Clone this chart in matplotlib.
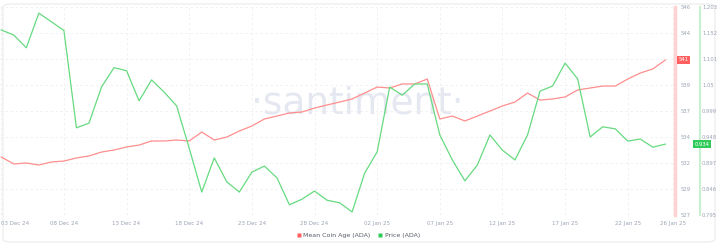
import matplotlib
matplotlib.use("Agg")
import matplotlib.pyplot as plt
from matplotlib.patches import FancyBboxPatch
from matplotlib.lines import Line2D
import matplotlib.transforms as mtransforms
import numpy as np

# ---- data (daily, 03 Dec 2024 .. 25 Jan 2025) ----
mean_coin_age = [532.30, 531.66, 531.75, 531.57, 531.84, 531.93, 532.21, 532.39, 532.75, 532.94,
                 533.21, 533.39, 533.76, 533.76, 533.85, 533.76, 534.58, 533.85, 534.12, 534.67,
                 535.13, 535.77, 536.04, 536.32, 536.41, 536.77, 537.05, 537.32, 537.60, 538.14,
                 538.69, 538.60, 538.97, 538.97, 539.42, 535.77, 536.04, 535.59, 536.04, 536.50,
                 536.96, 537.32, 538.14, 537.50, 537.60, 537.78, 538.42, 538.60, 538.78, 538.78,
                 539.42, 539.97, 540.34, 541.16]
price = [1.158, 1.148, 1.123, 1.191, 1.174, 1.157, 0.966, 0.975, 1.046, 1.084,
         1.078, 1.019, 1.060, 1.036, 1.009, 0.926, 0.840, 0.907, 0.860, 0.840,
         0.879, 0.891, 0.868, 0.815, 0.826, 0.842, 0.824, 0.819, 0.801, 0.877,
         0.919, 1.046, 1.030, 1.052, 1.052, 0.952, 0.903, 0.862, 0.893, 0.952,
         0.922, 0.903, 0.952, 1.038, 1.048, 1.093, 1.062, 0.948, 0.968, 0.964,
         0.940, 0.944, 0.928, 0.934]
x_tick_days = [0, 5, 10, 15, 20, 25, 30, 35, 40, 45, 50, 53.6]
x_tick_labels = ["03 Dec 24", "08 Dec 24", "13 Dec 24", "18 Dec 24", "23 Dec 24", "28 Dec 24",
                 "02 Jan 25", "07 Jan 25", "12 Jan 25", "17 Jan 25", "22 Jan 25", "26 Jan 25"]
age_ticks = [527, 529.375, 531.75, 534.125, 536.5, 538.875, 541.25, 543.625, 546]
age_tick_labels = ["527", "529", "532", "534", "537", "539", "", "544", "546"]
price_ticks = [0.795, 0.846, 0.897, 0.948, 0.999, 1.05, 1.101, 1.152, 1.203]
price_tick_labels = ["0.795", "0.846", "0.897", "0.948", "0.999", "1.05", "1.101", "1.152", "1.203"]
age_last_label = "541"
price_last_label = "0.934"

RED = "#ff8e8e"
GREEN = "#66da80"
TICKC = "#9aa3b5"

W, H = 718, 245
fig = plt.figure(figsize=(W / 100, H / 100), dpi=100)
fig.patch.set_facecolor("white")

# panel border
panel = FancyBboxPatch((3 / W, 3 / H), (712 / W), (238 / H),
                       boxstyle="round,pad=0,rounding_size=0.012",
                       transform=fig.transFigure, facecolor="none",
                       edgecolor="#ebebeb", linewidth=0.8, zorder=-10)
fig.patches.append(panel)

days = np.arange(len(price))
ax = fig.add_axes([0, (H - 215) / H, 675 / W, 208 / H])
ax.patch.set_visible(False)
ax.set_xlim(-0.1, 53.77)
ax.set_ylim(527, 546)

ax.plot(days, mean_coin_age, color=RED, lw=0.9, zorder=3)

ax2 = ax.twinx()
ax2.patch.set_visible(False)
ax2.set_ylim(0.795, 1.203)
ax2.plot(days, price, color=GREEN, lw=0.9, zorder=3)

# spines
for s in ["top", "left", "bottom"]:
    ax.spines[s].set_visible(False)
    ax2.spines[s].set_visible(False)
ax.spines["right"].set_color("#ffd3d3")
ax.spines["right"].set_linewidth(2.5)
ax2.spines["right"].set_color("#c9efd1")
ax2.spines["right"].set_linewidth(1.5)
ax2.spines["right"].set_position(("outward", 18))
ax.axhline(527, color="#eeeeee", lw=0.8, zorder=1)

# ticks
ax.yaxis.tick_right()
ax.set_yticks(age_ticks)
ax.set_yticklabels(age_tick_labels)
ax.tick_params(axis="y", length=0, pad=4, labelsize=3.8, labelcolor=TICKC)
ax2.set_yticks(price_ticks)
ax2.set_yticklabels(price_tick_labels)
ax2.tick_params(axis="y", length=0, pad=1.5, labelsize=3.8, labelcolor=TICKC)

ax.set_xticks(x_tick_days)
ax.set_xticklabels(x_tick_labels)
ax.tick_params(axis="x", length=0, pad=4, labelsize=4.0, labelcolor=TICKC)
labs = ax.get_xticklabels()
labs[0].set_ha("left")

# grid
ax.grid(True, color="#efefef", lw=0.6, linestyle=(0, (3, 3)), zorder=0)
ax.set_axisbelow(True)

# current value badges
t1 = ax.text(1.0, mean_coin_age[-1], age_last_label,
             transform=ax.get_yaxis_transform(), ha="left", va="center",
             fontsize=3.8, color="white", zorder=5,
             bbox=dict(boxstyle="square,pad=0.3", facecolor="#ff5f5f", edgecolor="none"),
             clip_on=False)
t2 = ax2.text(1.0, price[-1], price_last_label,
              transform=ax2.get_yaxis_transform(), ha="left", va="center",
              fontsize=3.8, color="white", zorder=5,
              bbox=dict(boxstyle="square,pad=0.3", facecolor="#2fcb5a", edgecolor="none"),
              clip_on=False)
t1.set_transform(t1.get_transform() + mtransforms.ScaledTranslation(3.5 / 100, 0, fig.dpi_scale_trans))
t2.set_transform(t2.get_transform() + mtransforms.ScaledTranslation(19.5 / 100, 0, fig.dpi_scale_trans))

# watermark
fig.text(357 / W, 1 - 103 / H, "·santiment·", ha="center", va="center",
         fontsize=27, color="#e5e8f1", family="DejaVu Sans", zorder=-5)

# legend
handles = [Line2D([], [], marker="s", color="none", markerfacecolor="#ff5f5f",
                  markeredgecolor="none", markersize=3.2),
           Line2D([], [], marker="s", color="none", markerfacecolor="#2fcb5a",
                  markeredgecolor="none", markersize=3.2)]
fig.legend(handles, ["Mean Coin Age (ADA)", "Price (ADA)"], loc="center",
           bbox_to_anchor=(358 / W, 1 - 235 / H), ncol=2, frameon=False,
           fontsize=4.5, labelcolor="#555b66", handlelength=0.8, handletextpad=0.3,
           columnspacing=1.2)

fig.savefig("out.png", dpi=100, facecolor="white")
